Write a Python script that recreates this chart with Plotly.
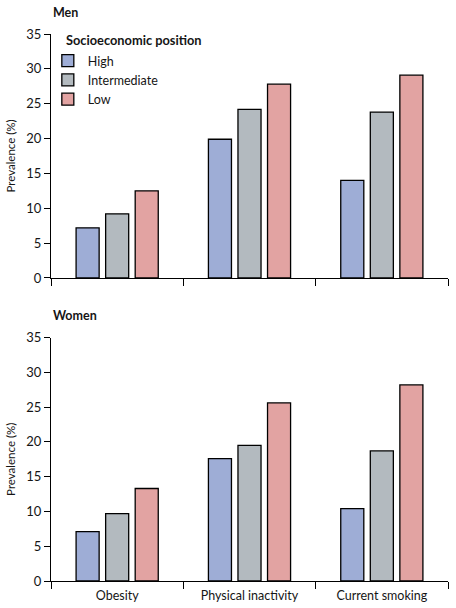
import plotly.graph_objects as go

categories = ["Obesity", "Physical inactivity", "Current smoking"]
groups = ["High", "Intermediate", "Low"]
men_high = [7.2, 19.9, 14.0]
men_intermediate = [9.2, 24.2, 23.8]
men_low = [12.5, 27.8, 29.1]
women_high = [7.1, 17.6, 10.4]
women_intermediate = [9.7, 19.5, 18.7]
women_low = [13.3, 25.6, 28.2]
y_ticks = [0, 5, 10, 15, 20, 25, 30, 35]

colors = {"High": "#9eadd6", "Intermediate": "#b3babf", "Low": "#e2a3a2"}
FONT = "Lato"
TXT = "#151515"

fig = go.Figure()
men = {"High": men_high, "Intermediate": men_intermediate, "Low": men_low}
women = {"High": women_high, "Intermediate": women_intermediate, "Low": women_low}
for g in groups:
    fig.add_trace(go.Bar(x=categories, y=men[g], name=g, legendgroup=g,
                         marker=dict(color=colors[g], line=dict(color="black", width=1.3)),
                         xaxis="x", yaxis="y", showlegend=True))
for g in groups:
    fig.add_trace(go.Bar(x=categories, y=women[g], name=g, legendgroup=g,
                         marker=dict(color=colors[g], line=dict(color="black", width=1.3)),
                         xaxis="x2", yaxis="y2", showlegend=False))

yax = dict(range=[0, 35], tickvals=y_ticks, showline=True, linecolor="black", linewidth=1.3,
           ticks="outside", ticklen=6, tickwidth=1.3, tickcolor="black", showgrid=False,
           zeroline=False, automargin=False, tickfont=dict(size=13, color=TXT, family=FONT),
           title=dict(text="Prevalence (%)", font=dict(size=11.5, color=TXT, family=FONT), standoff=8))
xax = dict(range=[-0.5, 2.5], showline=True, linecolor="black", linewidth=1.3,
           ticks="outside", ticklen=7, tickwidth=1.3, tickcolor="black", tickson="boundaries",
           showgrid=False, zeroline=False, automargin=False, ticklabelstandoff=3,
           tickfont=dict(size=12.5, color=TXT, family=FONT))

fig.update_layout(
    width=456, height=608,
    margin=dict(l=51, r=8, t=34, b=27),
    paper_bgcolor="white", plot_bgcolor="white",
    font=dict(family=FONT, color=TXT),
    barmode="group", bargap=0.33, bargroupgap=0.22,
    xaxis=dict(xax, domain=[0, 1], anchor="y", showticklabels=False),
    yaxis=dict(yax, domain=[0.554, 1], anchor="x"),
    xaxis2=dict(xax, domain=[0, 1], anchor="y2"),
    yaxis2=dict(yax, domain=[0, 0.445], anchor="x2"),
    legend=dict(x=-0.008, y=0.978, xanchor="left", yanchor="top", bgcolor="rgba(0,0,0,0)",
                font=dict(size=12.5, color=TXT), tracegroupgap=0, itemwidth=30),
    annotations=[
        dict(text="<b>Men</b>", xref="paper", yref="paper", x=0, y=1, yshift=22,
             xanchor="left", yanchor="middle", showarrow=False, font=dict(size=12.5, color=TXT)),
        dict(text="<b>Women</b>", xref="paper", yref="paper", x=0, y=0.445, yshift=22,
             xanchor="left", yanchor="middle", showarrow=False, font=dict(size=12.5, color=TXT)),
        dict(text="<b>Socioeconomic position</b>", xref="paper", yref="paper", x=0.032, y=1,
             yshift=-6, xanchor="left", yanchor="middle", showarrow=False,
             font=dict(size=12.8, color=TXT)),
    ],
)

fig.write_html("out.html", config={"displayModeBar": False},
               post_script="document.body.style.margin='0';")
